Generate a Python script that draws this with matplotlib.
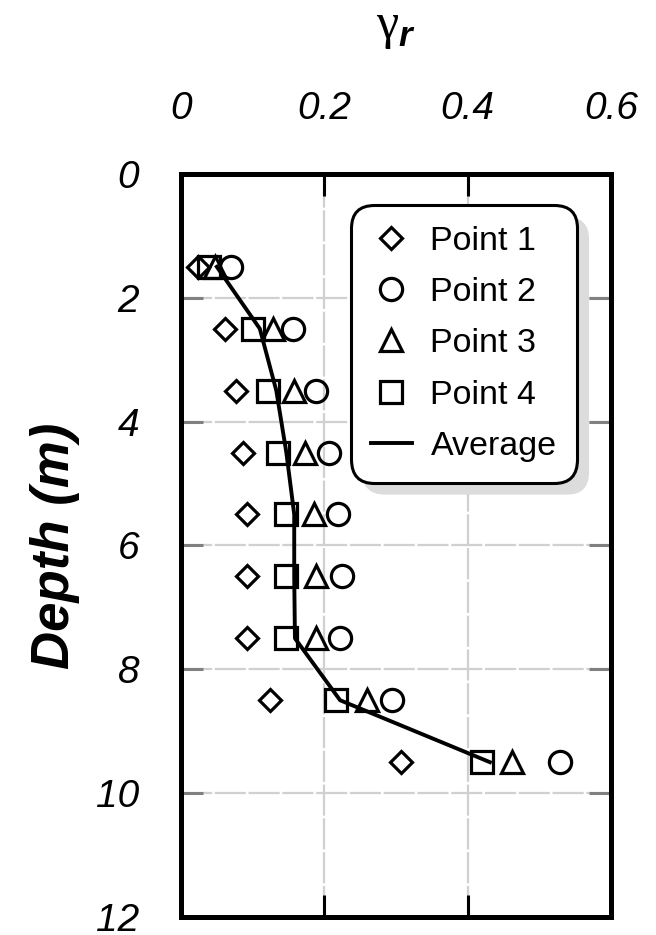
import matplotlib
matplotlib.use('Agg')
import matplotlib.pyplot as plt
from matplotlib.patches import FancyBboxPatch
from matplotlib.transforms import IdentityTransform

plt.rcParams['font.family'] = ['Liberation Sans', 'DejaVu Sans']
plt.rcParams['mathtext.fontset'] = 'custom'
plt.rcParams['mathtext.rm'] = 'Liberation Serif'
plt.rcParams['mathtext.bfit'] = 'Liberation Sans:italic:bold'

# depth of each measuring level (m)
depth = [1.5, 2.5, 3.5, 4.5, 5.5, 6.5, 7.5, 8.5, 9.5]

# gamma_r at each measuring point
point1 = [0.024, 0.061, 0.077, 0.086, 0.092, 0.092, 0.092, 0.124, 0.307]
point2 = [0.070, 0.156, 0.188, 0.206, 0.219, 0.224, 0.222, 0.294, 0.529]
point3 = [0.047, 0.128, 0.158, 0.173, 0.186, 0.188, 0.189, 0.260, 0.462]
point4 = [0.039, 0.100, 0.121, 0.135, 0.146, 0.146, 0.146, 0.216, 0.420]
average = [0.050, 0.110, 0.133, 0.147, 0.158, 0.158, 0.159, 0.222, 0.431]

xticks = [0, 0.2, 0.4, 0.6]
xticklabels = ['0', '0.2', '0.4', '0.6']
yticks = [0, 2, 4, 6, 8, 10, 12]
yticklabels = ['0', '2', '4', '6', '8', '10', '12']

fig = plt.figure(figsize=(6.56, 9.35), dpi=100)
ax = fig.add_axes([0.2759, 0.0193, 0.6555, 0.7947])

mk = dict(ls='none', mfc='none', mec='black', mew=2.3, zorder=3)
ax.plot(point1, depth, marker='D', ms=11.5, label='Point 1', **mk)
ax.plot(point2, depth, marker='o', ms=16, label='Point 2', **mk)
ax.plot(point3, depth, marker='^', ms=15.5, label='Point 3', **mk)
ax.plot(point4, depth, marker='s', ms=16, label='Point 4', **mk)
ax.plot(average, depth, color='black', lw=2.8, label='Average', zorder=4)

ax.set_xlim(0, 0.6)
ax.set_ylim(12, 0)
ax.set_xticks(xticks)
ax.set_xticklabels(xticklabels, fontstyle='italic')
ax.set_yticks(yticks)
ax.set_yticklabels(yticklabels, fontstyle='italic')
ax.xaxis.set_ticks_position('both')
ax.yaxis.set_ticks_position('both')
ax.tick_params(direction='in', length=16, width=2.2, labelsize=28,
               labeltop=True, labelbottom=False)
ax.tick_params(axis='x', pad=34)
ax.tick_params(axis='y', pad=30)
ax.tick_params(axis='y', which='both', left=True, color='0.5')
for s in ax.spines.values():
    s.set_linewidth(3.6)

ax.grid(True, color='#d0d0d0', lw=1.6, linestyle=(0, (14, 1.2)))
ax.set_axisbelow(True)

ax.xaxis.set_label_position('top')
ax.set_xlabel(r'$\mathrm{\gamma}_{\mathbfit{r}}$', fontsize=36, labelpad=38)
ax.set_ylabel('Depth (m)', fontsize=38, fontweight='bold', fontstyle='italic')
ax.yaxis.set_label_coords(-0.235, 0.5)

leg = ax.legend(loc='upper right', bbox_to_anchor=(0.921, 0.958),
                borderaxespad=0, fontsize=24.5, labelspacing=0.6,
                handlelength=1.2, handletextpad=0.55, borderpad=0.6,
                fancybox=True, framealpha=1, edgecolor='black')
leg.get_frame().set_linewidth(2.2)
leg.legendPatch.set_boxstyle('round', pad=0, rounding_size=0.68)

# grey drop shadow behind the legend box
fig.canvas.draw()
bb = leg.get_window_extent()
shadow = FancyBboxPatch((bb.x0 + 12, bb.y0 - 12), bb.width, bb.height,
                        boxstyle='round,pad=0,rounding_size=22',
                        transform=IdentityTransform(), facecolor='#dcdcdc',
                        edgecolor='none', zorder=leg.get_zorder() - 0.5)
ax.add_artist(shadow)

fig.savefig('out.png', dpi=100)
